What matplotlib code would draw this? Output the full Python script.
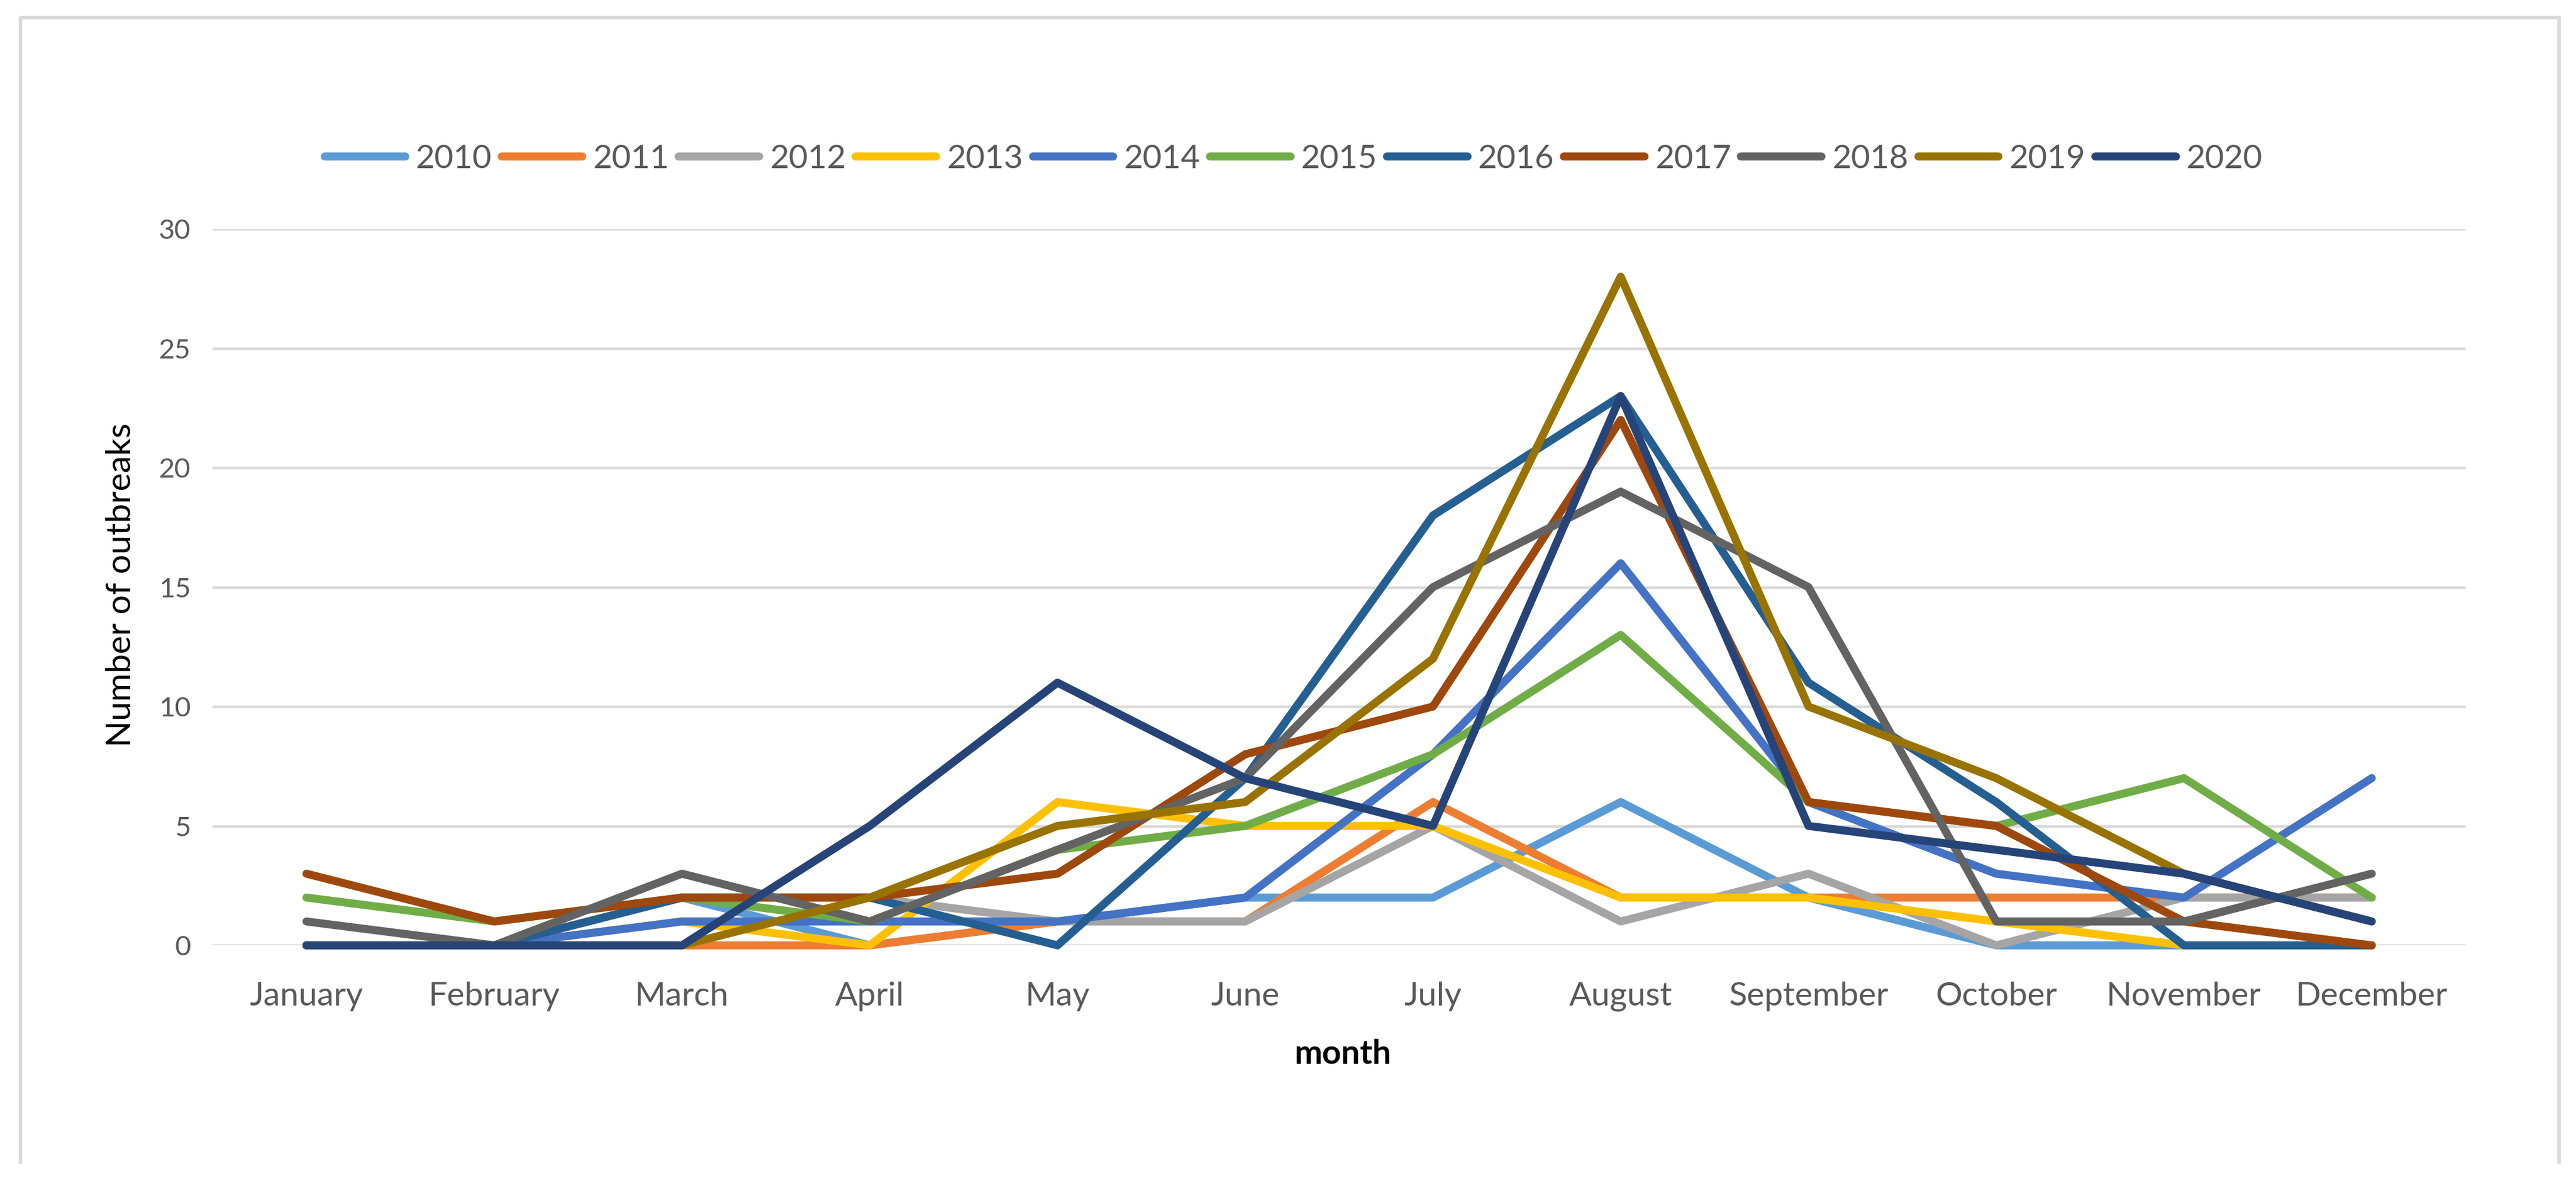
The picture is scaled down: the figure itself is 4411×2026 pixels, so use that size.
import matplotlib
matplotlib.use("Agg")
import matplotlib.pyplot as plt
from matplotlib.lines import Line2D

months = ["January", "February", "March", "April", "May", "June", "July",
          "August", "September", "October", "November", "December"]
years = ["2010", "2011", "2012", "2013", "2014", "2015", "2016", "2017", "2018", "2019", "2020"]

y2010 = [0, 0, 2, 0, 1, 2, 2, 6, 2, 0, 0, 0]
y2011 = [0, 0, 0, 0, 1, 1, 6, 2, 2, 2, 2, 2]
y2012 = [0, 0, 2, 2, 1, 1, 5, 1, 3, 0, 2, 2]
y2013 = [0, 0, 1, 0, 6, 5, 5, 2, 2, 1, 0, 0]
y2014 = [0, 0, 1, 1, 1, 2, 8, 16, 6, 3, 2, 7]
y2015 = [2, 1, 2, 1, 4, 5, 8, 13, 6, 5, 7, 2]
y2016 = [0, 0, 2, 2, 0, 7, 18, 23, 11, 6, 0, 0]
y2017 = [3, 1, 2, 2, 3, 8, 10, 22, 6, 5, 1, 0]
y2018 = [1, 0, 3, 1, 4, 7, 15, 19, 15, 1, 1, 3]
y2019 = [0, 0, 0, 2, 5, 6, 12, 28, 10, 7, 3, 1]
y2020 = [0, 0, 0, 5, 11, 7, 5, 23, 5, 4, 3, 1]

series = [y2010, y2011, y2012, y2013, y2014, y2015, y2016, y2017, y2018, y2019, y2020]
colors = ["#5B9BD5", "#ED7D31", "#A5A5A5", "#FFC000", "#4472C4", "#70AD47",
          "#255E91", "#9E480E", "#636363", "#997300", "#264478"]

plt.rcParams["font.family"] = ["Lato", "DejaVu Sans"]

W, H = 4411, 2026
fig = plt.figure(figsize=(W / 300, H / 300), dpi=300)
ax_l, ax_r, ax_t, ax_b = 364, 4222, 392, 1619
ax = fig.add_axes([ax_l / W, 1 - ax_b / H, (ax_r - ax_l) / W, (ax_b - ax_t) / H])

x = list(range(len(months)))
for yr, vals, c in zip(years, series, colors):
    ax.plot(x, vals, color=c, lw=3.3, label=yr, solid_joinstyle="round",
            solid_capstyle="round", clip_on=False)

ax.set_xlim(-0.5, 11.5)
ax.set_ylim(0, 30)
ax.set_yticks(range(0, 31, 5))
ax.set_xticks(x)
ax.set_xticklabels(months)
ax.grid(axis="y", color="#D9D9D9", lw=1.1)
ax.set_axisbelow(True)
for s in ax.spines.values():
    s.set_visible(False)
ax.tick_params(axis="x", length=0, pad=15, labelsize=13.7, labelcolor="#595959")
ax.tick_params(axis="y", length=0, pad=9, labelsize=11.3, labelcolor="#595959")

fig.text(208 / W, 1 - 1002 / H, "Number of outbreaks", rotation=90,
         ha="center", va="center", fontsize=14.2, color="black")
fig.text(2300 / W, 1 - 1805 / H, "month", ha="center", va="center",
         fontsize=13.7, fontweight="bold", color="black")

fig.legend(loc="center", bbox_to_anchor=(2215 / W, 1 - 272 / H), ncol=11,
           frameon=False, fontsize=13.5, handlelength=2.45, handletextpad=0.32,
           columnspacing=0.3, labelcolor="#595959")

# light grey chart-area border (bottom edge is cut off in the original)
bc = "#D9D9D9"
l, r, t, b = 35 / W, 4382 / W, 1 - 29.5 / H, 1 - 1990 / H
fig.add_artist(Line2D([l, l, r, r], [b, t, t, b], transform=fig.transFigure,
                      color=bc, lw=1.5, solid_joinstyle="round"))

fig.savefig("out.png", dpi=300, facecolor="white")
